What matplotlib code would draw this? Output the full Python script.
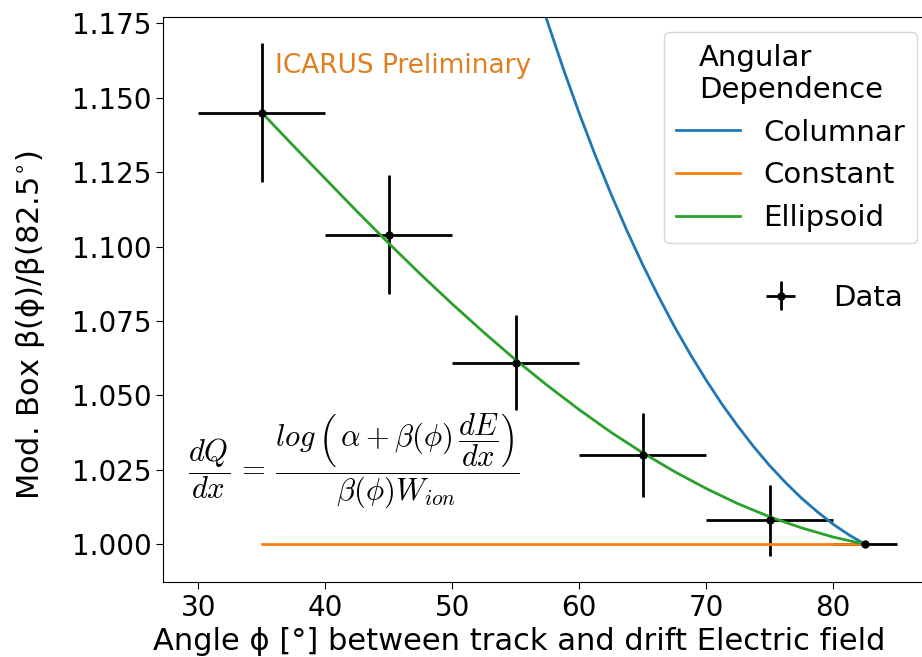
import matplotlib.pyplot as plt

plt.rcParams['mathtext.fontset'] = 'cm'

# measured points
angle = [35, 45, 55, 65, 75, 82.5]
ratio = [1.145, 1.104, 1.061, 1.030, 1.008, 1.000]
angle_err = [5, 5, 5, 5, 5, 2.5]
ratio_err = [0.0235, 0.020, 0.016, 0.014, 0.012, 0.0]

# model curves
col_x = [57.0, 57.5, 58.75, 60, 61.25, 62.5, 63.75, 65, 66.25, 67.5, 68.75, 70,
         71.25, 72.5, 73.75, 75, 76.25, 77.5, 78.75, 80, 81.25, 82.5]
col_y = [1.1822, 1.1755, 1.1597, 1.1448, 1.1308, 1.1177, 1.1054, 1.0939, 1.0832,
         1.0731, 1.0638, 1.0551, 1.0470, 1.0396, 1.0327, 1.0264, 1.0207, 1.0155,
         1.0109, 1.0067, 1.0031, 1.0000]

const_x = [35, 82.5]
const_y = [1.0, 1.0]

ell_x = [35, 37.5, 40, 42.5, 45, 47.5, 50, 52.5, 55, 57.5, 60, 62.5, 65, 67.5,
         70, 72.5, 75, 77.5, 80, 82.5]
ell_y = [1.1450, 1.1338, 1.1228, 1.1118, 1.1011, 1.0907, 1.0807, 1.0711, 1.0619,
         1.0533, 1.0452, 1.0376, 1.0307, 1.0244, 1.0187, 1.0136, 1.0092, 1.0055,
         1.0024, 1.0000]

yticks = [1.000, 1.025, 1.050, 1.075, 1.100, 1.125, 1.150, 1.175]

W, H = 922, 657
fig = plt.figure(figsize=(W / 100, H / 100), dpi=100)
ax = fig.add_axes([0.1771, 0.1146, 0.8333, 0.8591])

ax.errorbar(angle, ratio, xerr=angle_err, yerr=ratio_err, fmt='o', color='black',
            ms=5, lw=2, label='Data')
l1, = ax.plot(col_x, col_y, color='#1f77b4', lw=2, label='Columnar')
l2, = ax.plot(const_x, const_y, color='#ff7f0e', lw=2, label='Constant')
l3, = ax.plot(ell_x, ell_y, color='#2ca02c', lw=2, label='Ellipsoid')

ax.set_xlim(27.25, 87.75)
ax.set_ylim(0.9874, 1.177)
ax.set_yticks(yticks)
ax.set_yticklabels(['%.3f' % v for v in yticks])
ax.tick_params(labelsize=20, length=5)

ax.set_ylabel(r'Mod. Box $\mathregular{\beta(\phi)/\beta(82.5^{\circ})}$', fontsize=22)
ax.yaxis.set_label_coords(-0.152, 0.455)
ax.set_xlabel('Angle \u03d5 [\u00b0] between track and drift Electric field', fontsize=22)
ax.xaxis.set_label_coords(0.463, -0.08)

fig.text(275 / W, 1 - 66 / H, 'ICARUS Preliminary', color='#e07f1f', fontsize=19,
         va='center', ha='left')
fig.text(188 / W, 1 - 461 / H,
         r'$\dfrac{dQ}{dx}\,=\,\dfrac{log\,\left(\,\alpha + \beta(\phi)\,\dfrac{dE}{dx}\right)}{\beta(\phi) W_{ion}}$',
         fontsize=22, va='center', ha='left')

leg1 = ax.legend(handles=[l1, l2, l3], title='Angular\nDependence', fontsize=21,
                 title_fontsize=21, loc='upper right', handlelength=2.2,
                 bbox_to_anchor=(917 / W, 1 - 32 / H),
                 bbox_transform=fig.transFigure, borderaxespad=0)
ax.add_artist(leg1)
data_handle = ax.errorbar([], [], xerr=[], yerr=[], fmt='o', color='black', ms=5, lw=2)
ax.legend([data_handle], ['Data'], fontsize=21, frameon=False, loc='center left',
          bbox_to_anchor=(740 / W, 1 - 298 / H), bbox_transform=fig.transFigure,
          borderaxespad=0)

plt.savefig('out.png', dpi=100)
